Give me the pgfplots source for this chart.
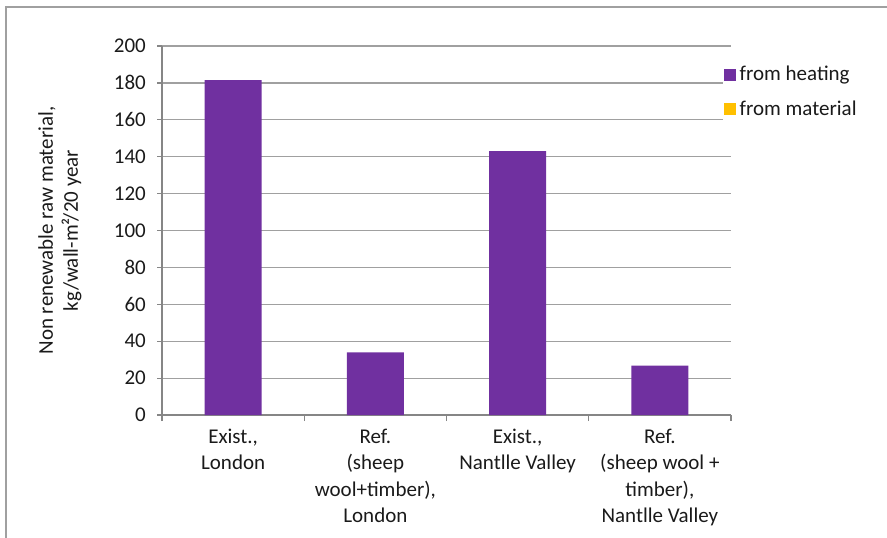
\documentclass[border=0pt]{standalone}
\usepackage{fontspec}
\setmainfont{Carlito}
\usepackage{pgfplots}
\pgfplotsset{compat=1.18}
\definecolor{heat}{HTML}{7030A0}
\definecolor{mat}{HTML}{FFC000}
\definecolor{axgray}{HTML}{868686}
\definecolor{gridgray}{HTML}{A0A0A0}
\definecolor{txt}{HTML}{1A1A1A}
\newcommand{\cf}{\fontsize{21bp}{25bp}\selectfont}
\newcommand{\xf}{\fontsize{21bp}{26.3bp}\selectfont}
\begin{document}
\cf
\begin{tikzpicture}[x=1bp,y=1bp]
\useasboundingbox (0,0) rectangle (887,-538);
\draw[color=gridgray, line width=1.2bp] (6,-538) -- (6,-7) -- (887,-7);
\begin{axis}[
  at={(162bp,-415bp)}, anchor=south west,
  width=569bp, height=369bp, scale only axis,
  ybar stacked, bar width=57bp,
  xmin=-0.5, xmax=3.5, ymin=0, ymax=200,
  ytick={0,20,...,200},
  xtick={0,1,2,3},
  xticklabels={{Exist.,\\London},{Ref.\\(sheep\\wool+timber),\\London},{Exist.,\\Nantlle Valley},{Ref.\\(sheep wool +\\timber),\\Nantlle Valley}},
  minor xtick={-0.5,0.5,1.5,2.5,3.5},
  major x tick style={draw=none},
  minor tick length=6bp,
  major tick length=5bp,
  tick align=outside,
  axis x line*=bottom, axis y line*=left,
  axis line style={color=axgray, line width=1.5bp},
  every tick/.style={color=axgray, line width=1.2bp},
  ymajorgrids, grid style={color=gridgray, line width=1.2bp},
  /pgf/number format/assume math mode=true,
  ticklabel style={font=\cf, color=txt},
  yticklabel style={xshift=-4bp},
  xticklabel style={align=center, anchor=north, yshift=-2bp, font=\xf},
  every axis y label/.style={at={(axis description cs:0,0.5)}, xshift=-102bp, rotate=90, anchor=center, align=center, color=txt, font=\cf},
  ylabel={Non renewable raw material,\\kg/wall-m²/20 year},
  legend style={at={(rel axis cs:0.985,0.955)}, anchor=north west, draw=none, fill=white, font=\cf, text=txt, row sep=13bp, inner sep=1bp, nodes={inner xsep=4bp}, cells={anchor=west}},
  legend image code/.code={\fill[#1] (-1bp,-6bp) rectangle (11bp,6bp);},
]
\addplot[fill=heat, draw=none] coordinates {(0,181.5) (1,34) (2,143) (3,26.7)};
\addplot[fill=mat, draw=none] coordinates {(0,0) (1,0) (2,0) (3,0)};
\legend{from heating, from material}
\end{axis}
\end{tikzpicture}
\end{document}
